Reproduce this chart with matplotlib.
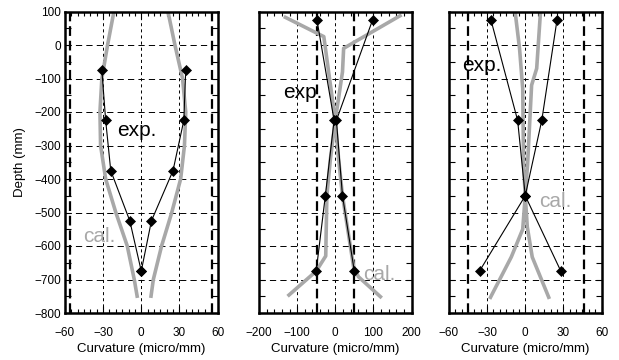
import matplotlib
matplotlib.use("Agg")
import matplotlib.pyplot as plt
from matplotlib.ticker import MultipleLocator

plt.rcParams['font.family'] = ['Liberation Sans', 'DejaVu Sans']
plt.rcParams['lines.scale_dashes'] = False

# ---------------- data ----------------
# Panel 1
exp1_depth = [-75, -225, -375, -525, -675]
exp1_left = [-31, -28, -24, -9, 0]
exp1_right = [35, 33.5, 25, 8, 0]
cal1_depth = [100, 0, -100, -200, -300, -400, -500, -600, -700, -755]
cal1_left = [-21.5, -26.5, -31, -32.5, -32, -28, -20, -11, -5.5, -3]
cal1_right = [21, 26.5, 32.5, 35, 34, 31, 24, 16, 9.5, 7.5]
yield1 = [-56, 56]

# Panel 2
exp2_depth = [75, -225, -450, -675]
exp2_left = [-48, -3, -26, -50]
exp2_right = [98, 3, 19, 50]
cal2_left_depth = [85, 25, -225, -343, -450, -630, -675, -750]
cal2_left = [-135, -30, 0, -13, -22, -25, -50, -125]
cal2_right_depth = [90, -10, -80, -225, -343, -450, -662, -692, -755]
cal2_right = [174, 22, 19, 0, 9, 19, 48, 61, 122]
yield2 = [-47, 50]

# Panel 3
exp3_depth = [75, -225, -450, -675]
exp3_left = [-27, -6, 0, -36]
exp3_right = [25, 13, 0, 28]
cal3_left_depth = [100, -10, -130, -358, -450, -550, -633, -758]
cal3_left = [-8, -4.5, -2, -1.3, 0, -2, -11, -28]
cal3_right_depth = [100, -70, -120, -358, -450, -543, -633, -758]
cal3_right = [12, 9, 5, 1.8, 0, 1.6, 5.5, 19]
yield3 = [-45, 46]

xlims = [(-60, 60), (-200, 200), (-60, 60)]
xmajor = [30, 100, 30]
xminor = [5, 20, 5]

# text label positions (data coords)
exp_text = [(-19, -272), (-137, -158), (-49.5, -78)]
cal_text = [(-46, -588), (74, -701), (11, -484)]

GRAY = '#a8a8a8'

fig = plt.figure(figsize=(6.19, 3.6), dpi=100)
lefts = [65, 259, 449]
width = 152.5
bottom_px = 313
top_px = 11.5

panels = [
    (exp1_depth, exp1_left, exp1_right, cal1_depth, cal1_left, cal1_depth, cal1_right, yield1),
    (exp2_depth, exp2_left, exp2_right, cal2_left_depth, cal2_left, cal2_right_depth, cal2_right, yield2),
    (exp3_depth, exp3_left, exp3_right, cal3_left_depth, cal3_left, cal3_right_depth, cal3_right, yield3),
]

for i, (ed, el, er, cld, cl, crd, cr, yl) in enumerate(panels):
    ax = fig.add_axes([lefts[i] / 619, (360 - bottom_px) / 360, width / 619,
                       (bottom_px - top_px) / 360])
    ax.set_xlim(*xlims[i])
    ax.set_ylim(-800, 100)
    ax.xaxis.set_major_locator(MultipleLocator(xmajor[i]))
    ax.xaxis.set_minor_locator(MultipleLocator(xminor[i]))
    ax.yaxis.set_major_locator(MultipleLocator(100))
    ax.yaxis.set_minor_locator(MultipleLocator(50))
    ax.tick_params(axis='both', which='both', direction='in', top=True, right=True,
                   width=0.8, labelsize=8.5, color='k')
    ax.tick_params(axis='x', which='major', length=5, pad=10)
    ax.tick_params(axis='x', which='minor', length=3)
    ax.tick_params(axis='y', which='both', length=4.5, pad=3)
    if i > 0:
        ax.tick_params(axis='y', labelleft=False)
    for s in ax.spines.values():
        s.set_linewidth(1.8)

    # grid
    ax.xaxis.grid(True, which='major', color='k', lw=0.7, ls=(0, (2.2, 2.2)))
    ax.yaxis.grid(True, which='major', color='k', lw=0.7, ls=(0, (4.5, 3)))
    ax.set_axisbelow(True)

    for xv in yl:
        ax.axvline(xv, color='k', lw=1.6, ls=(0, (7, 3.5)), zorder=1.5)

    ax.plot(cl, cld, color=GRAY, lw=2.6, solid_capstyle='butt', zorder=2)
    ax.plot(cr, crd, color=GRAY, lw=2.6, solid_capstyle='butt', zorder=2)
    ax.plot(el, ed, color='k', lw=0.8, marker='D', ms=5, mew=0.5, zorder=3)
    ax.plot(er, ed, color='k', lw=0.8, marker='D', ms=5, mew=0.5, zorder=3)

    ax.text(*exp_text[i], 'exp.', fontsize=15, color='k', ha='left', va='baseline')
    ax.text(*cal_text[i], 'cal.', fontsize=15, color=GRAY, ha='left', va='baseline')

    ax.set_xlabel('Curvature (micro/mm)', fontsize=9.5, labelpad=3)
    if i == 0:
        ax.set_ylabel('Depth (mm)', fontsize=9.5, labelpad=6)

fig.savefig('out.png', dpi=100)
